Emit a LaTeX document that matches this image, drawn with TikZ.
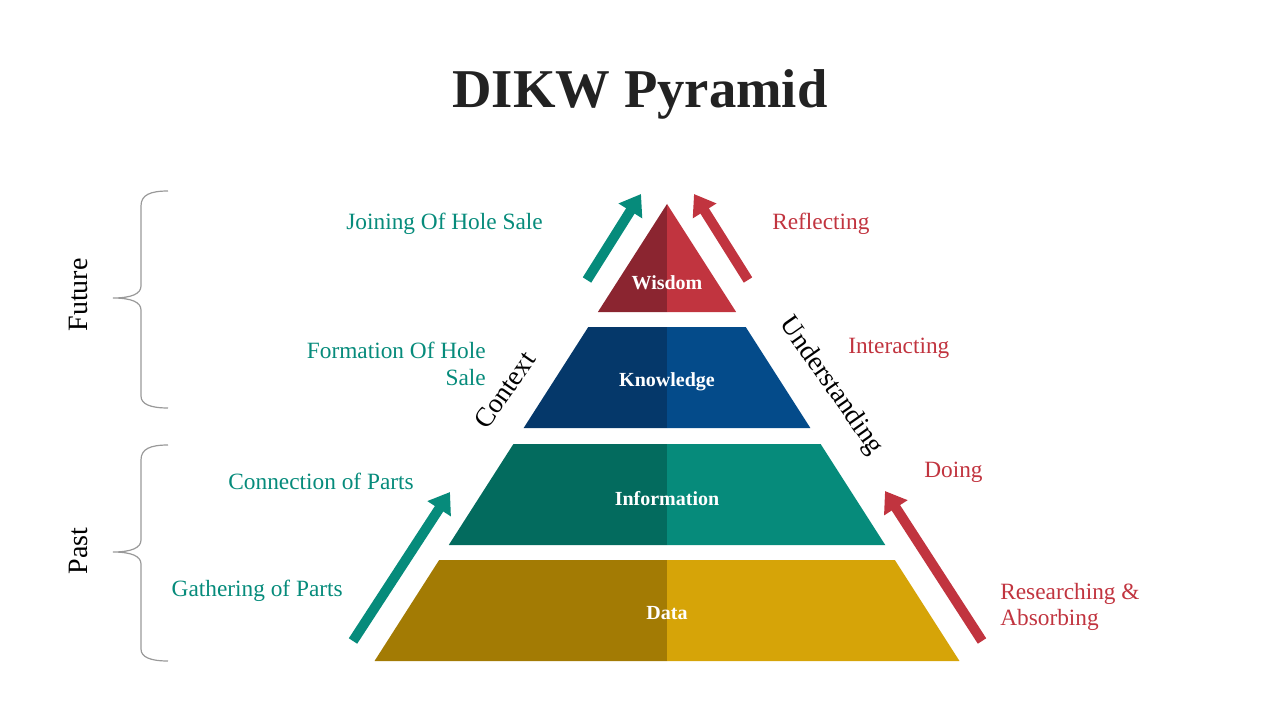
\documentclass[tikz,border=0pt]{standalone}
\usepackage{fontspec}
\setmainfont{Liberation Serif}
\usepackage{tikz}
\usetikzlibrary{arrows.meta}

\definecolor{wisdomdark}{HTML}{8B2530}
\definecolor{wisdomlight}{HTML}{C1343F}
\definecolor{knowdark}{HTML}{05386A}
\definecolor{knowlight}{HTML}{044B8A}
\definecolor{infodark}{HTML}{036B5E}
\definecolor{infolight}{HTML}{068B7B}
\definecolor{datadark}{HTML}{A37B04}
\definecolor{datalight}{HTML}{D6A408}
\definecolor{titlegray}{HTML}{222222}

% one layer of the pyramid: top y, bottom y, left colour, right colour
\newcommand{\pyrlayer}[4]{
	\fill[#3] ({667-0.64*(#1-204)},#1) -- (667,#1) -- (667,#2) -- ({667-0.64*(#2-204)},#2) -- cycle;
	\fill[#4] (667,#1) -- ({667+0.64*(#1-204)},#1) -- ({667+0.64*(#2-204)},#2) -- (667,#2) -- cycle;
}

\begin{document}
\begin{tikzpicture}[x=0.75pt,y=-0.75pt,
		layertext/.style={text=white,font=\fontsize{15}{18}\selectfont\bfseries},
		greenlabel/.style={text=infolight,font=\fontsize{17.5}{20}\selectfont,inner sep=0pt},
		redlabel/.style={text=wisdomlight,font=\fontsize{17.5}{20}\selectfont,inner sep=0pt},
		sidelabel/.style={font=\fontsize{20.5}{24}\selectfont,inner sep=0pt},
		timelabel/.style={font=\fontsize{21}{25}\selectfont,rotate=90,inner sep=0pt},
		bigarrow/.style={line width=7.5pt,-{Triangle[width=20pt,length=15pt]}},
		bracket/.style={draw=black!40,line width=0.9pt}
		]
		\useasboundingbox (0,0) rectangle (1280,720);
		
		\node[text=titlegray,font=\fontsize{41}{48}\selectfont\bfseries](T) at (640,94){DIKW Pyramid};
		
		% layers
		\pyrlayer{204}{312}{wisdomdark}{wisdomlight}
		\pyrlayer{327}{428}{knowdark}{knowlight}
		\pyrlayer{444}{545}{infodark}{infolight}
		\pyrlayer{560}{661}{datadark}{datalight}
		\node[layertext](W) at (667,283){Wisdom};
		\node[layertext](K) at (667,382){Knowledge};
		\node[layertext](I) at (667,499){Information};
		\node[layertext](D) at (667,613){Data};
		
		\node[sidelabel, rotate=55](C) at (505,390){Context};
		\node[sidelabel, rotate=-55](U) at (831,386){Understanding};
		
		% left labels
		\node[greenlabel, anchor=east](G4) at (543,224){Joining Of Hole Sale};
		\node[greenlabel, anchor=east, align=right](G3) at (486,364){Formation Of Hole\\Sale};
		\node[greenlabel, anchor=east](G2) at (414,481){Connection of Parts};
		\node[greenlabel, anchor=east](G1) at (343,591){Gathering of Parts};
		
		% right labels
		\node[redlabel, anchor=west](R4) at (772,224){Reflecting};
		\node[redlabel, anchor=west](R3) at (848,348){Interacting};
		\node[redlabel, anchor=west](R2) at (924,472){Doing};
		\node[redlabel, anchor=west, align=left](R1) at (1000,607){Researching \&\\Absorbing};
		
		% arrows
		\coordinate (g1s) at (353,641);
		\coordinate (g1e) at (450,492);
		\coordinate (g2s) at (587,280);
		\coordinate (g2e) at (641,194);
		\coordinate (r1s) at (982,641);
		\coordinate (r1e) at (885,491);
		\coordinate (r2s) at (748,280);
		\coordinate (r2e) at (694,194);
		\draw[bigarrow, infolight] (g1s) -- (g1e);
		\draw[bigarrow, infolight] (g2s) -- (g2e);
		\draw[bigarrow, wisdomlight] (r1s) -- (r1e);
		\draw[bigarrow, wisdomlight] (r2s) -- (r2e);
		
		% braces
		\draw[bracket] (168,191) .. controls (150,191) and (141,195) .. (141,206) -- (141,286)
			.. controls (141,294) and (131,298) .. (113,298) .. controls (131,298) and (141,302) .. (141,310)
			-- (141,396) .. controls (141,404) and (150,408) .. (168,408);
		\draw[bracket] (168,445) .. controls (150,445) and (141,449) .. (141,460) -- (141,540)
			.. controls (141,548) and (131,552) .. (113,552) .. controls (131,552) and (141,556) .. (141,564)
			-- (141,649) .. controls (141,657) and (150,661) .. (168,661);
		\node[timelabel](F) at (78,295){Future};
		\node[timelabel](P) at (78,551){Past};
	\end{tikzpicture}
\end{document}
